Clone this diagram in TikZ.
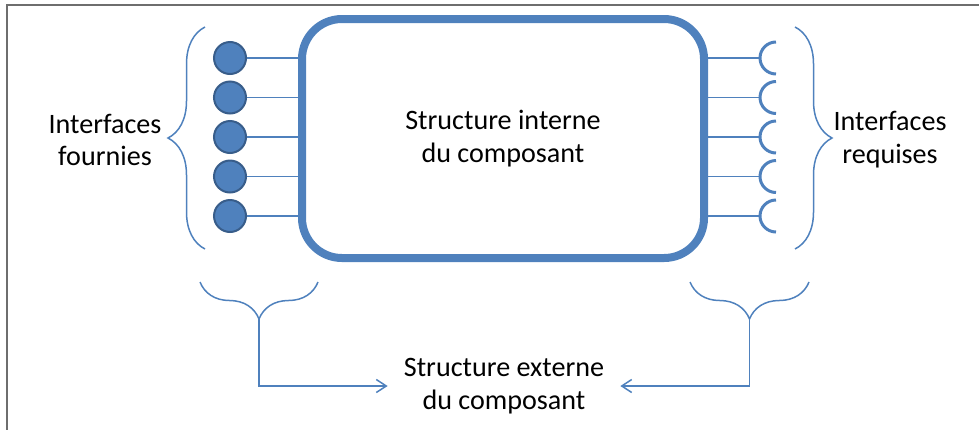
\documentclass[tikz,border=0pt]{standalone}
\usepackage{fontspec}
\setmainfont{Carlito}
\usetikzlibrary{decorations.pathreplacing, arrows.meta}
\definecolor{ablue}{HTML}{4F81BD}
\definecolor{dblue}{HTML}{385D8A}

\begin{document}
\begin{tikzpicture}[x=0.2mm, y=0.2mm,
    wire/.style={ablue, line width=0.3mm},
    lbl/.style={align=center, font=\fontsize{16}{18.7}\selectfont},
    brc/.style={ablue, line width=0.3mm, decorate, decoration={brace, amplitude=7.4mm}}]
  \useasboundingbox (0,0) rectangle (979,430);
  \draw[line width=0.4mm, black!57] (979,425) -- (7,425) -- (7,0);

  \node[lbl, draw=ablue, line width=1.6mm, rounded corners=8mm, minimum width=80.4mm, minimum height=47.8mm] (box) at (503,291.5) {Structure interne\\du composant};

  \foreach \i in {1,...,5} {
    \node[circle, fill=ablue, draw=dblue, line width=0.4mm, minimum size=6.4mm, inner sep=0] (p\i) at (230,411.5-39.5*\i) {};
    \coordinate (s\i) at (760,411.5-39.5*\i);
    \draw[wire] (p\i) -- (p\i -| box.west);
    \draw[wire] (box.east |- s\i) -- (s\i);
    \draw[ablue, line width=0.6mm] (s\i) ++(16,16) arc[start angle=90, end angle=270, radius=3.2mm];
  }

  \draw[brc] (205,181) -- (205,403);
  \draw[brc] (795,403) -- (795,181);
  \draw[brc] (318,148) -- (200,148);
  \draw[brc] (809,148) -- (690,148);

  \node[lbl] (prov) at (105,290) {Interfaces\\fournies};
  \node[lbl] (req) at (890,290) {Interfaces\\requises};
  \node[lbl] (ext) at (504,44) {Structure externe\\du composant};

  \coordinate (ltip) at (259,111);
  \coordinate (rtip) at (749.5,111);
  \draw[wire, -{Straight Barb[length=2mm, width=2.6mm]}, shorten >=2mm] (ltip) |- (ext);
  \draw[wire, -{Straight Barb[length=2mm, width=2.6mm]}, shorten >=2mm] (rtip) |- (ext);
\end{tikzpicture}
\end{document}
